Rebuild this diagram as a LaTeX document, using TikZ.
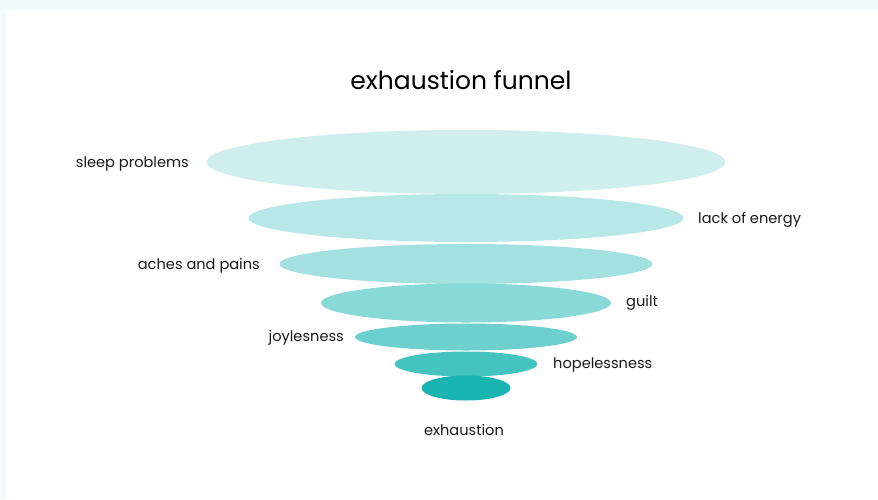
\documentclass[tikz,border=0pt]{standalone}
\usepackage{fontspec}
\setmainfont{Poppins}
\usetikzlibrary{shapes.geometric}
\definecolor{frame}{HTML}{F1FAFA}
\definecolor{tone1}{HTML}{D0EEEE}
\definecolor{tone2}{HTML}{B8E7E7}
\definecolor{tone3}{HTML}{A3E0E0}
\definecolor{tone4}{HTML}{89D9D8}
\definecolor{tone5}{HTML}{6DD0CE}
\definecolor{tone6}{HTML}{45C3C1}
\definecolor{tone7}{HTML}{17B4B2}
\tikzset{
  layer/.style={ellipse, inner sep=0pt, draw=none},
  lbl/.style={font=\fontsize{14.6}{17}\selectfont, text=black!90, inner sep=0pt},
}
\begin{document}
\begin{tikzpicture}[x=1pt,y=-1pt]
  % page frame: pale band at top and left, white panel
  \fill[frame] (0,0) rectangle (878,499);
  \fill[white] (6,10) rectangle (878,499);
  \useasboundingbox (0,0) rectangle (878,499);

  \node[font=\fontsize{25}{30}\selectfont, inner sep=0pt] (title) at (461,80) {exhaustion funnel};

  % funnel layers, widest first
  \node[layer, fill=tone1, minimum width=519, minimum height=64] (l1) at (466,162) {};
  \node[layer, fill=tone2, minimum width=435, minimum height=48] (l2) at (466,218) {};
  \node[layer, fill=tone3, minimum width=373, minimum height=40] (l3) at (466,264) {};
  \node[layer, fill=tone4, minimum width=290, minimum height=39] (l4) at (466,303) {};
  \node[layer, fill=tone5, minimum width=222, minimum height=27] (l5) at (466,337) {};
  \node[layer, fill=tone6, minimum width=143, minimum height=25] (l6) at (466,364) {};
  \node[layer, fill=tone7, minimum width=89, minimum height=25] (l7) at (466,388) {};

  % stage labels
  \node[lbl, anchor=mid east] (t1) at (189,165) {sleep problems};
  \node[lbl, anchor=mid west] (t2) at (698,221) {lack of energy};
  \node[lbl, anchor=mid east] (t3) at (260,267) {aches and pains};
  \node[lbl, anchor=mid west] (t4) at (626,304) {guilt};
  \node[lbl, anchor=mid east] (t5) at (344,339) {joylesness};
  \node[lbl, anchor=mid west] (t6) at (553,366) {hopelessness};
  \node[lbl, anchor=mid] (t7) at (464,433) {exhaustion};
\end{tikzpicture}
\end{document}
